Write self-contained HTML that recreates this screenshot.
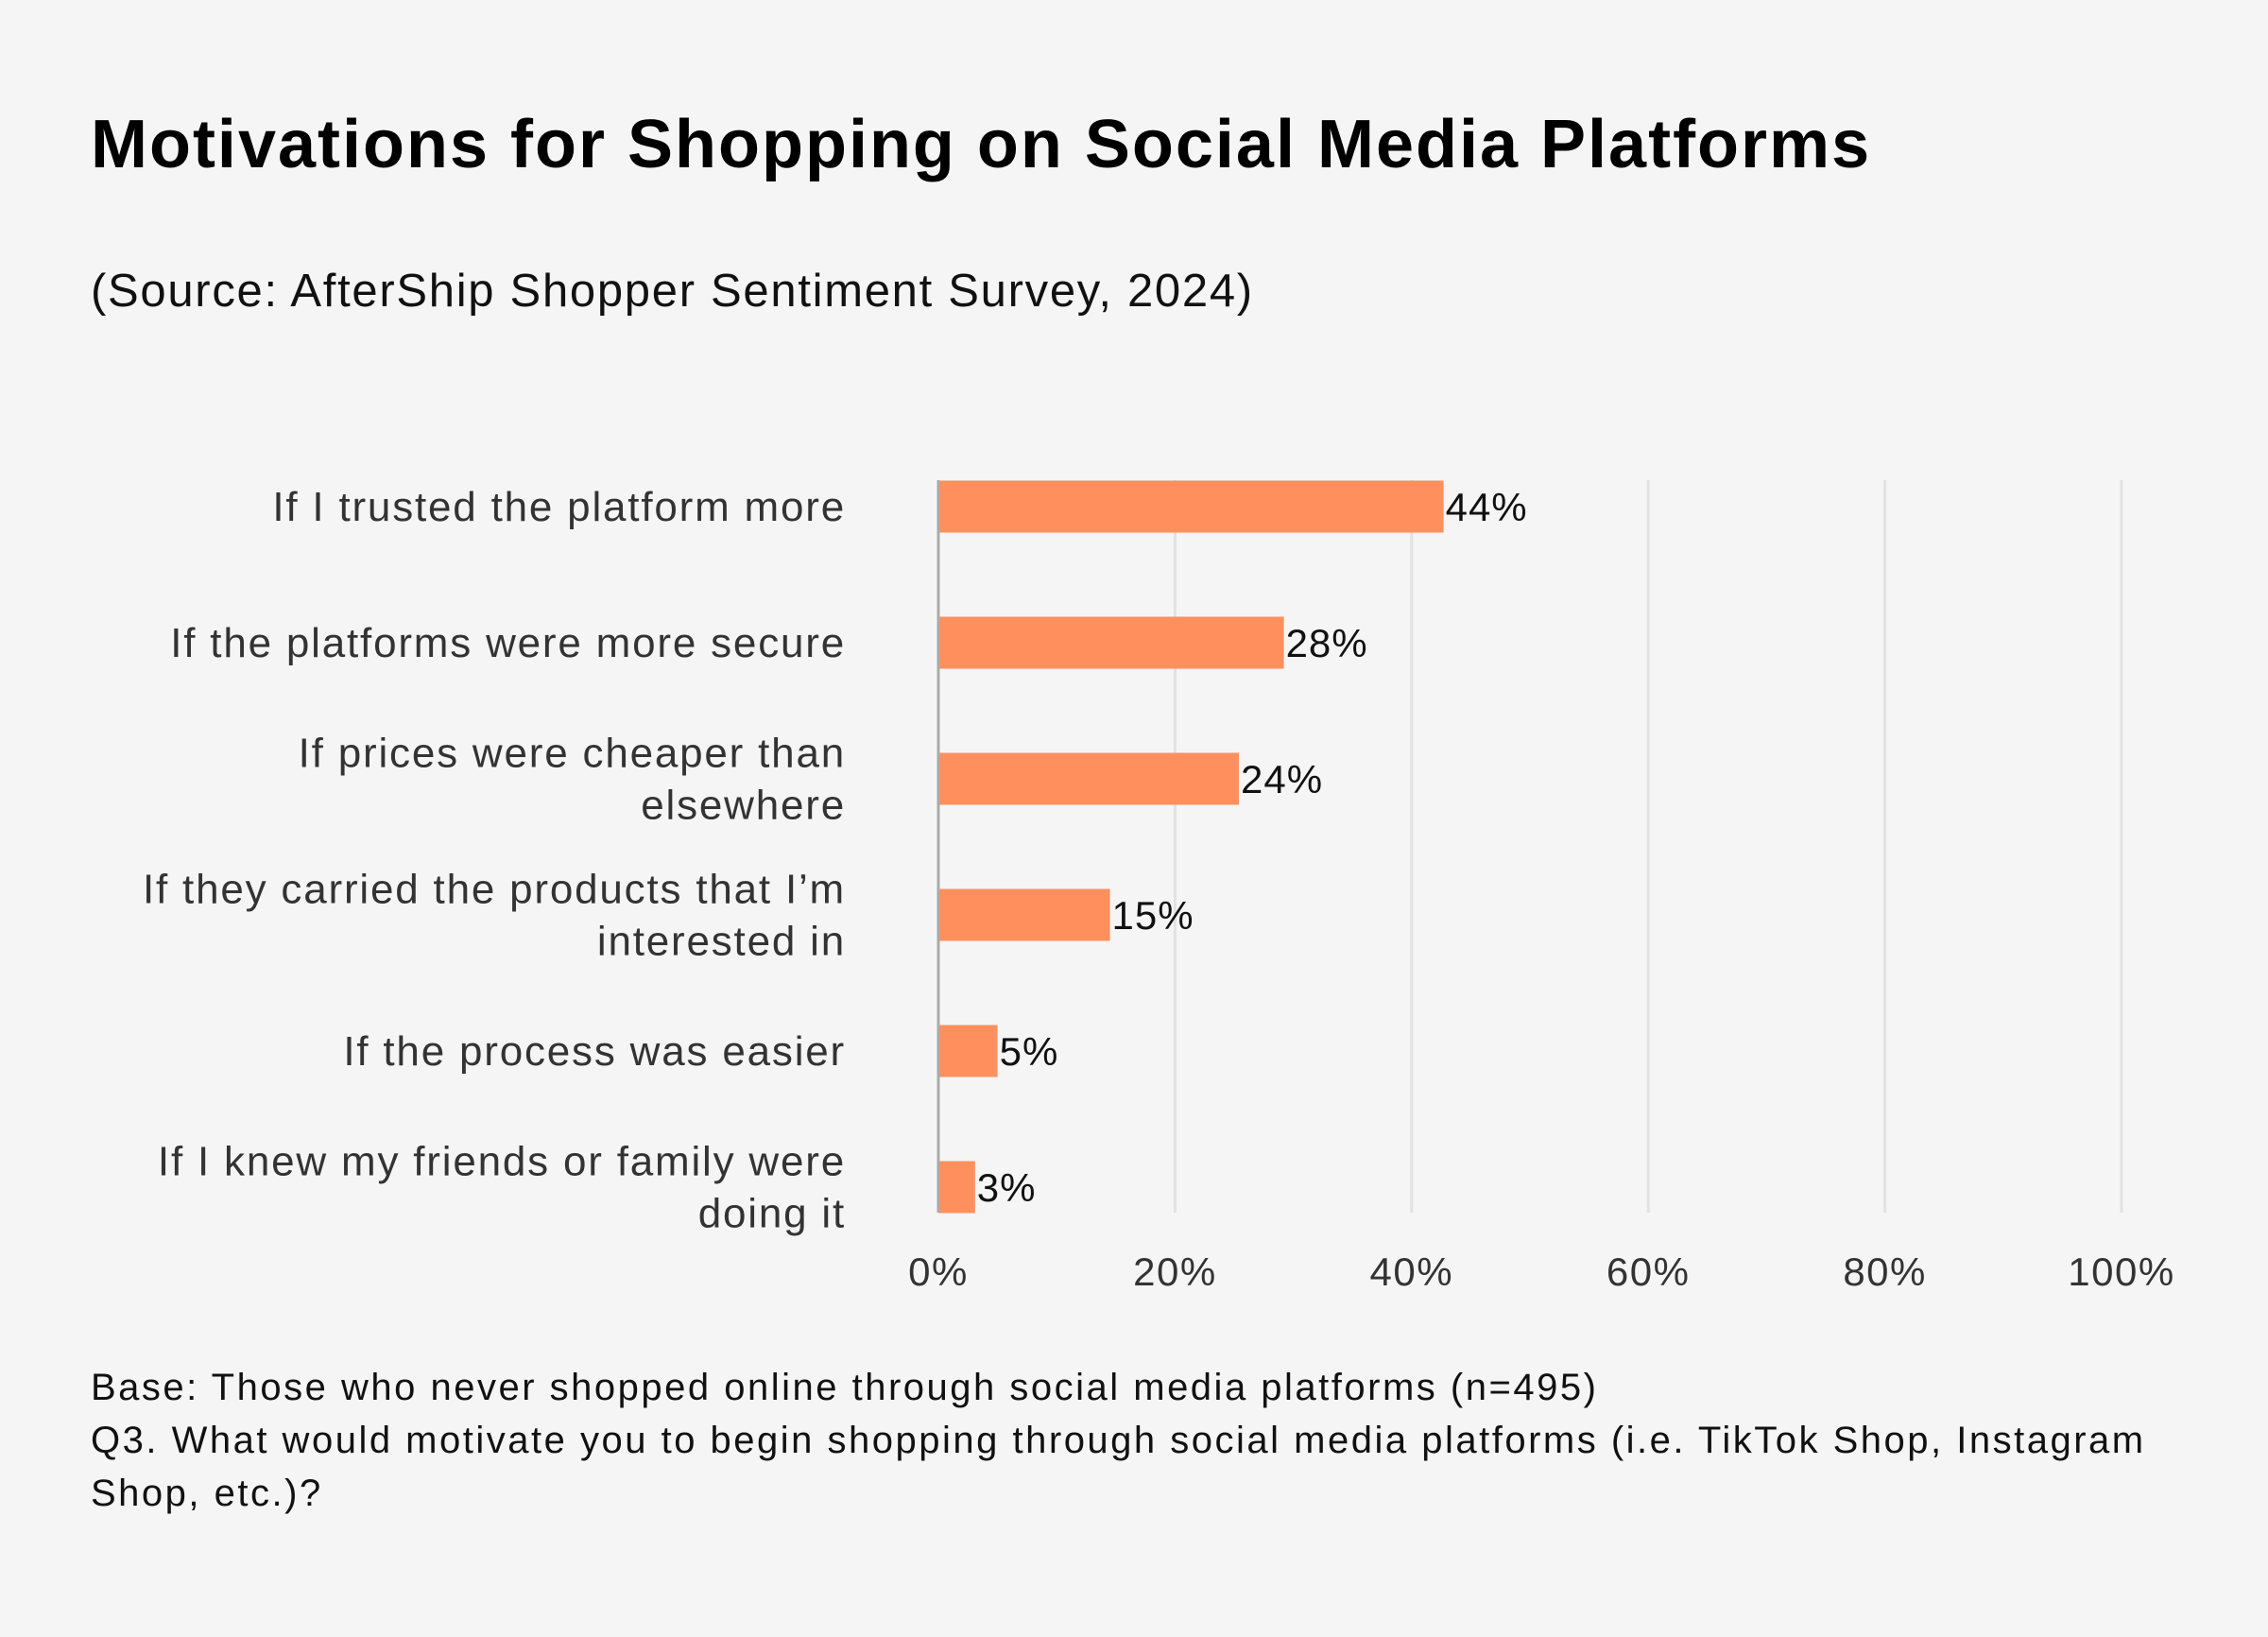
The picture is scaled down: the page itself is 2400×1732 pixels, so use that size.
<!DOCTYPE html>
<html><head><meta charset="utf-8"><style>
html,body{margin:0;padding:0;background:#f5f5f5;}
body{width:2400px;height:1732px;position:relative;overflow:hidden;font-family:"Liberation Sans",sans-serif;}
#title{position:absolute;left:96px;top:112px;font-size:72px;font-weight:bold;color:#000;letter-spacing:2px;}
#subtitle{position:absolute;left:96px;top:280px;font-size:49px;color:#111;letter-spacing:1.7px;}
.foot{position:absolute;left:96px;font-size:40px;color:#111;letter-spacing:2.5px;line-height:56px;}
svg{position:absolute;left:0;top:0;}
</style></head><body>
<div id="title">Motivations for Shopping on Social Media Platforms</div>
<div id="subtitle">(Source: AfterShip Shopper Sentiment Survey, 2024)</div>
<svg id="chart" width="2400" height="1732"></svg>
<div class="foot" style="top:1440px">Base: Those who never shopped online through social media platforms (n=495)</div>
<div class="foot" style="top:1496px;width:2240px">Q3. What would motivate you to begin shopping through social media platforms (i.e. TikTok Shop, Instagram Shop, etc.)?</div>
<script>
const categories=[["If I trusted the platform more"],["If the platforms were more secure"],["If prices were cheaper than","elsewhere"],["If they carried the products that I’m","interested in"],["If the process was easier"],["If I knew my friends or family were","doing it"]];
const values=[42.7,29.2,25.4,14.5,5.0,3.1];
const valueLabels=["44%","28%","24%","15%","5%","3%"];
const ticks=[0,20,40,60,80,100];
const tickLabels=["0%","20%","40%","60%","80%","100%"];
const svg=document.getElementById('chart');const NS='http://www.w3.org/2000/svg';
const x0=993,x1=2245,yTop=508,yBot=1283,row=144,firstC=536,barH=55;
const xs=v=>x0+(x1-x0)*v/100;const yc=i=>firstC+i*row;
function mk(t,a){const e=document.createElementNS(NS,t);for(const k in a)e.setAttribute(k,a[k]);svg.appendChild(e);return e;}
ticks.forEach((t,i)=>{
 if(i>0){const g=mk('line',{x1:xs(t),x2:xs(t),y1:yTop,y2:yBot,stroke:'#e2e2e2','stroke-width':3});
 
 }
 const l=mk('text',{x:xs(t),y:1360,'text-anchor':'middle','font-size':42,fill:'#333','letter-spacing':1.5,'font-family':'Liberation Sans, sans-serif'});
 
 
 l.textContent=tickLabels[i];
});
values.forEach((v,i)=>{
 const b=mk('rect',{x:x0,y:yc(i)-barH/2,width:xs(v)-x0,height:barH,fill:'#ff905e'});
 
 
 const vl=mk('text',{x:xs(v)+2,y:yc(i)+15,'font-size':42,fill:'#111','letter-spacing':1,'font-family':'Liberation Sans, sans-serif'});
 
 
 vl.textContent=valueLabels[i];
 const lines=categories[i];
 lines.forEach((s,j)=>{
  const dy=(j-(lines.length-1)/2)*55;
  const c=mk('text',{x:895,y:yc(i)+dy+15,'text-anchor':'end','font-size':44,fill:'#333','letter-spacing':1.8,'font-family':'Liberation Sans, sans-serif'});
  
  
  c.textContent=s;
 });
});
const ax=mk('line',{x1:x0,x2:x0,y1:yTop,y2:yBot,stroke:'#aaa','stroke-width':3});


</script>
</body></html>
